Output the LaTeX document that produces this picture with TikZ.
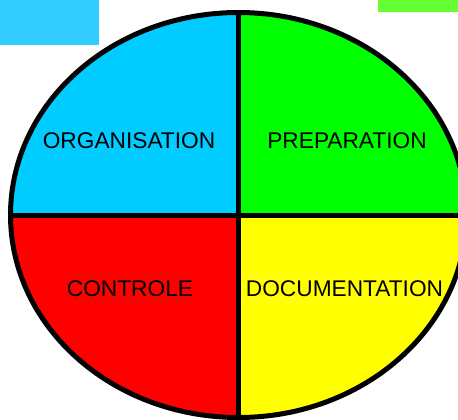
\documentclass[tikz,border=0pt]{standalone}
\usepackage{fontspec}
\setmainfont{Liberation Sans}
\definecolor{qblue}{HTML}{00CCFF}
\definecolor{qgreen}{HTML}{00FF00}
\definecolor{qred}{HTML}{FF0000}
\definecolor{qyellow}{HTML}{FFFF00}
\definecolor{rblue}{HTML}{33CCFF}
\definecolor{rgreen}{HTML}{66FF33}
\begin{document}
\begin{tikzpicture}[x=1pt,y=-1pt,
  lbl/.style={font=\fontsize{22.7}{25}\selectfont, inner sep=0pt, anchor=base},
  rule/.style={line width=5pt}]
\useasboundingbox (0,0) rectangle (458,420);
\fill[rblue] (0,0) rectangle (99,45);
\fill[rgreen] (378,0) rectangle (458,12);
\begin{scope}
\clip (238.5,215) ellipse [x radius=228, y radius=202.5];
\fill[qblue] (0,0) rectangle (238.5,215);
\fill[qgreen] (238.5,0) rectangle (480,215);
\fill[qred] (0,215) rectangle (238.5,430);
\fill[qyellow] (238.5,215) rectangle (480,430);
\end{scope}
\coordinate (c) at (238.5,215);
\coordinate (top) at (238.5,12.5);
\coordinate (bot) at (238.5,417.5);
\coordinate (lft) at (10.5,215);
\coordinate (rgt) at (466.5,215);
\draw[rule] (top) -- (bot);
\draw[rule] (lft) -- (rgt);
\draw[rule] (c) ellipse [x radius=228, y radius=202.5];
\node[lbl] (org) at (129,148) {ORGANISATION};
\node[lbl] (prep) at (347,148) {PREPARATION};
\node[lbl] (ctrl) at (130,296) {CONTROLE};
\node[lbl] (doc) at (344.5,296) {DOCUMENTATION};
\end{tikzpicture}
\end{document}
